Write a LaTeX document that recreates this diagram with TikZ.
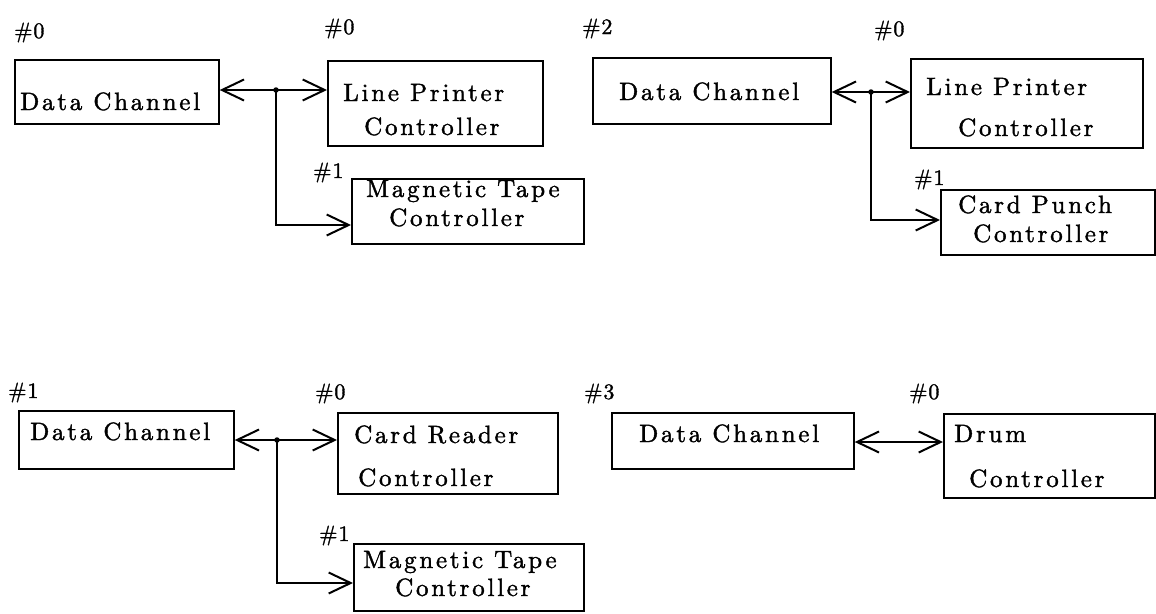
\documentclass[tikz,border=0pt]{standalone}
\usepackage{fontspec}
\setmainfont{lmroman10-regular}[Extension=.otf, LetterSpace=11, FakeBold=1.5]
\newfontfamily\numfont{lmroman10-regular}[Extension=.otf, LetterSpace=4, FakeBold=1.5]
\usetikzlibrary{arrows.meta}
\tikzset{
  box/.style={draw, line width=1.7pt, inner sep=0pt, anchor=north west},
  txt/.style={inner sep=0pt, anchor=base west, font=\fontsize{25}{29}\selectfont},
  num/.style={inner sep=0pt, anchor=base west, font=\fontsize{22}{26}\numfont},
  conn/.style={line width=1.7pt},
  arr/.style={conn, -{Straight Barb[length=22pt,width=21pt,line width=2pt]}},
  dot/.style={circle, fill, inner sep=0pt, minimum size=5.5pt}
}
\begin{document}
\begin{tikzpicture}[x=1pt,y=-1pt]
\useasboundingbox (0,0) rectangle (1156,613);
% ---------- group 1 ----------
\node[box, minimum width=204pt, minimum height=64pt] (DC1) at (14,59) {};
\node[box, minimum width=215pt, minimum height=85pt] (LP1) at (327,60) {};
\node[box, minimum width=232pt, minimum height=65pt] (MT1) at (351,178) {};
\node[num] (n10) at (14,38) {\#0};
\node[num] (n11) at (324,34) {\#0};
\node[num] (n12) at (313,178) {\#1};
\node[txt] (t11) at (20,110) {Data Channel};
\node[txt] (t12) at (343,101) {Line Printer};
\node[txt] (t13) at (364,135) {Controller};
\node[txt] (t14) at (366,197) {Magnetic Tape};
\node[txt] (t15) at (389,226) {Controller};
\coordinate (j1) at (276,90);
\coordinate (k1) at (276,225);
\draw[arr] (j1) -- (j1 -| DC1.east);
\draw[arr] (j1) -- (j1 -| LP1.west);
\draw[arr] (j1) -- (k1) -- (k1 -| MT1.west);
\node[dot] (d1) at (j1) {};
% ---------- group 2 ----------
\node[box, minimum width=238pt, minimum height=66pt] (DC2) at (592,57) {};
\node[box, minimum width=232pt, minimum height=89pt] (LP2) at (910,58) {};
\node[box, minimum width=214pt, minimum height=65pt] (CP) at (940,189) {};
\node[num] (n20) at (582,34) {\#2};
\node[num] (n21) at (874,36) {\#0};
\node[num] (n22) at (914,185) {\#1};
\node[txt] (t21) at (619,100) {Data Channel};
\node[txt] (t22) at (926,95) {Line Printer};
\node[txt] (t23) at (958,136) {Controller};
\node[txt] (t24) at (958,213) {Card Punch};
\node[txt] (t25) at (973,242) {Controller};
\coordinate (j2) at (871,92);
\coordinate (k2) at (871,220);
\draw[arr] (j2) -- (j2 -| DC2.east);
\draw[arr] (j2) -- (j2 -| LP2.west);
\draw[arr] (j2) -- (k2) -- (k2 -| CP.west);
\node[dot] (d2) at (j2) {};
% ---------- group 3 ----------
\node[box, minimum width=215pt, minimum height=58pt] (DC3) at (18,410) {};
\node[box, minimum width=220pt, minimum height=81pt] (CR) at (337,412) {};
\node[box, minimum width=230pt, minimum height=67pt] (MT2) at (353,543) {};
\node[num] (n30) at (8,398) {\#1};
\node[num] (n31) at (315,399) {\#0};
\node[num] (n32) at (319,541) {\#1};
\node[txt] (t31) at (30,440) {Data Channel};
\node[txt] (t32) at (354,443) {Card Reader};
\node[txt] (t33) at (358,486) {Controller};
\node[txt] (t34) at (363,568) {Magnetic Tape};
\node[txt] (t35) at (395,596) {Controller};
\coordinate (j3) at (277,440);
\coordinate (k3) at (277,583);
\draw[arr] (j3) -- (j3 -| DC3.east);
\draw[arr] (j3) -- (j3 -| CR.west);
\draw[arr] (j3) -- (k3) -- (k3 -| MT2.west);
\node[dot] (d3) at (j3) {};
% ---------- group 4 ----------
\node[box, minimum width=242pt, minimum height=56pt] (DC4) at (611,412) {};
\node[box, minimum width=211pt, minimum height=84pt] (DR) at (943,413) {};
\node[num] (n40) at (584,399) {\#3};
\node[num] (n41) at (909,399) {\#0};
\node[txt] (t41) at (639,442) {Data Channel};
\node[txt] (t42) at (954,442) {Drum};
\node[txt] (t43) at (969,487) {Controller};
\coordinate (j4) at (898,442);
\draw[arr] (j4) -- (j4 -| DC4.east);
\draw[arr] (j4) -- (j4 -| DR.west);
\end{tikzpicture}
\end{document}
